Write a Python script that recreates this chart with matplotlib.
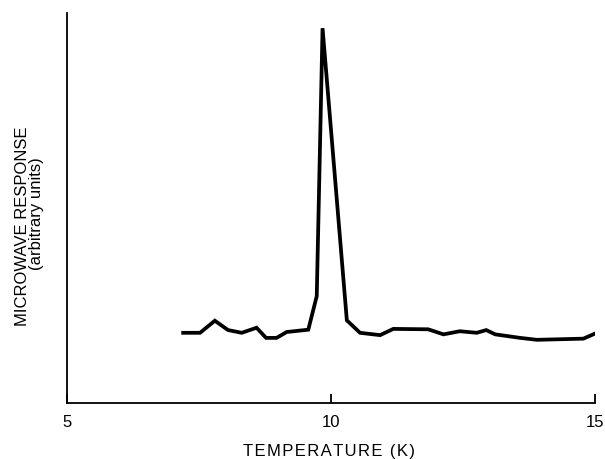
import matplotlib.pyplot as plt

# ============================================================
# DATA
# ============================================================

temperature = [7.20, 7.52, 7.80, 8.05, 8.31, 8.59, 8.77, 8.97, 9.16, 9.57,
               9.73, 9.84, 10.30, 10.55, 10.93, 11.18, 11.84, 12.13, 12.44,
               12.76, 12.94, 13.11, 13.58, 13.90, 14.78, 15.00]

response = [1.80, 1.80, 2.11, 1.87, 1.80, 1.93, 1.67, 1.67, 1.82, 1.88,
            2.74, 9.61, 2.12, 1.80, 1.74, 1.90, 1.89, 1.76, 1.84,
            1.80, 1.87, 1.76, 1.67, 1.62, 1.65, 1.78]

x_ticks = [5, 10, 15]

# ============================================================
# PLOT
# ============================================================

plt.rcParams['font.family'] = ['Liberation Sans', 'DejaVu Sans']

fig = plt.figure(figsize=(6.05, 4.59), dpi=100)
ax = fig.add_axes([67 / 605, 1 - 403 / 459, 528 / 605, 390 / 459])

ax.plot(temperature, response, color='black', linewidth=2.7,
        solid_joinstyle='miter')

ax.set_xlim(5, 15)
ax.set_ylim(0, 10)

ax.spines['top'].set_visible(False)
ax.spines['right'].set_visible(False)
ax.spines['left'].set_linewidth(1.3)
ax.spines['bottom'].set_linewidth(1.3)

ax.set_xticks(x_ticks)
ax.set_xticklabels([str(t) for t in x_ticks])
ax.tick_params(axis='x', direction='in', length=6.5, width=1.3,
               labelsize=12, pad=8.5)
ax.set_yticks([])

# letter-spaced axis label, as in the original
xlabel = "\u200a".join("TEMPERATURE (K)")
fig.text(329 / 605, 1 - 456 / 459, xlabel, ha='center', va='baseline',
         fontsize=12)

fig.text(27 / 605, 1 - 226.5 / 459, "MICROWAVE RESPONSE", rotation=90,
         rotation_mode='anchor', ha='center', va='baseline', fontsize=12)
fig.text(41 / 605, 1 - 213.5 / 459, "(arbitrary units)", rotation=90,
         rotation_mode='anchor', ha='center', va='baseline', fontsize=12)

fig.savefig("out.png", dpi=100)
